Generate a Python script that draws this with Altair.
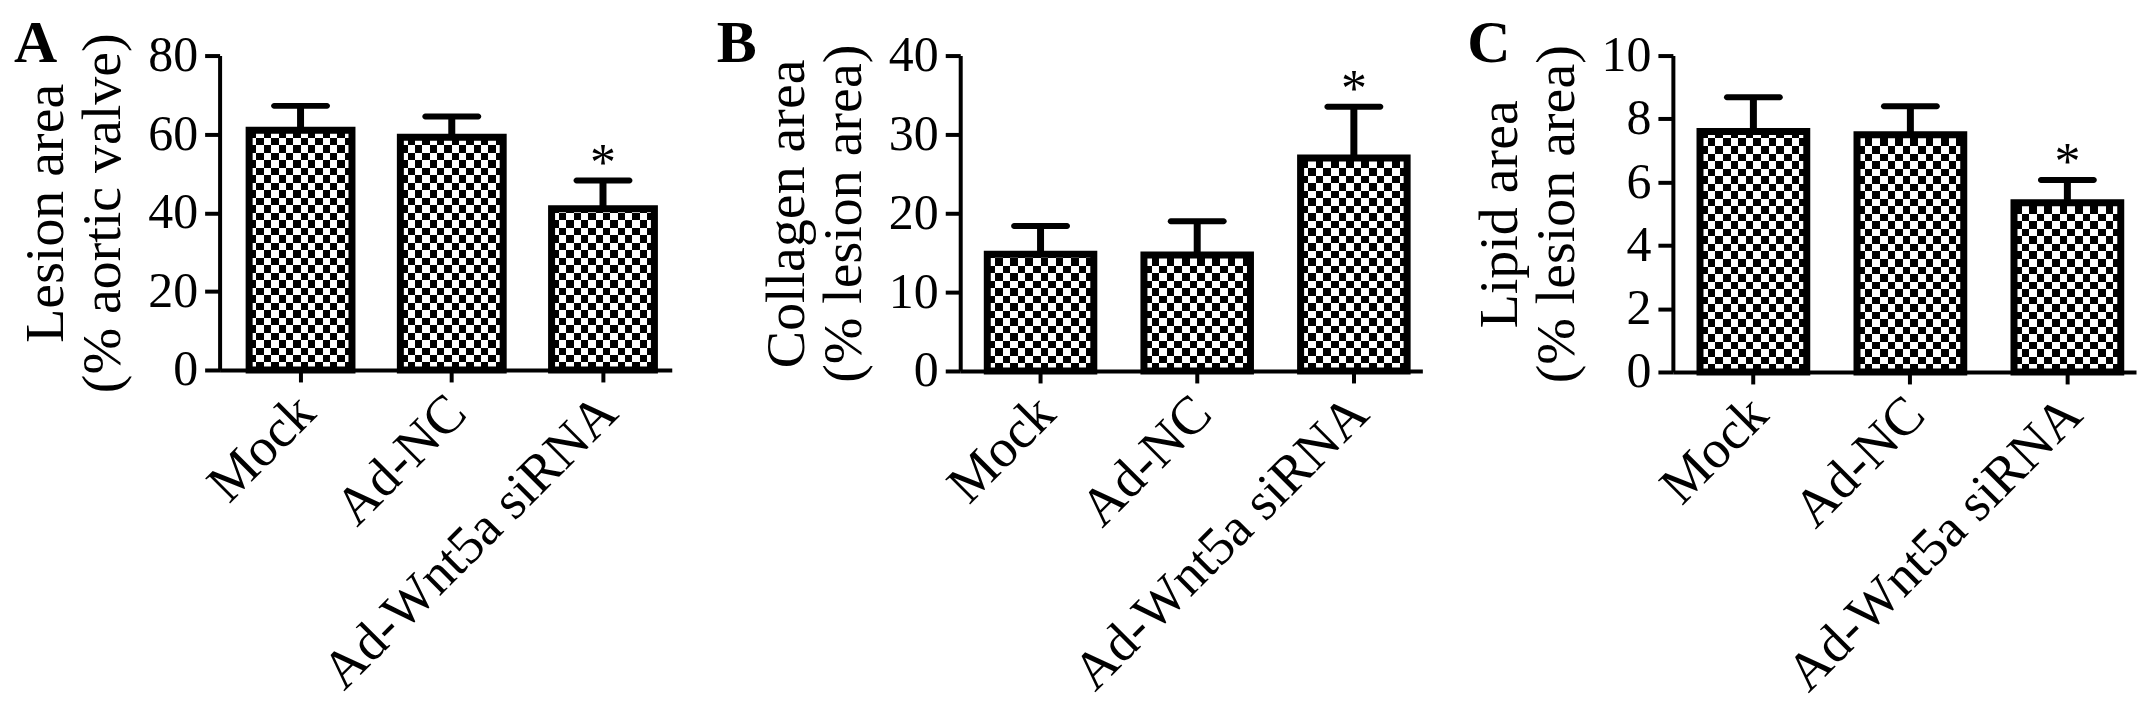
import altair as alt
import pandas as pd

# ---------------- data ----------------
groups = ["Mock", "Ad-NC", "Ad-Wnt5a siRNA"]
significance = ["", "", "*"]

lesion_mean = [61.0, 59.2, 41.0]
lesion_sem = [6.2, 5.3, 7.2]

collagen_mean = [14.8, 14.7, 27.0]
collagen_sem = [3.6, 4.3, 6.5]

lipid_mean = [7.6, 7.5, 5.35]
lipid_sem = [1.08, 0.90, 0.72]

panel_letters = ["A", "B", "C"]
y_titles = [
    ["Lesion area", "(% aortic valve)"],
    ["Collagen area", "(% lesion area)"],
    ["Lipid area", "(% lesion area)"],
]
y_max = [80, 40, 10]
y_ticks = [[0, 20, 40, 60, 80], [0, 10, 20, 30, 40], [0, 2, 4, 6, 8, 10]]

FONT = "Liberation Serif"


def stripes(n, horizontal_bands):
    stops = []
    for k in range(n):
        c = "black" if k % 2 == 0 else "white"
        stops.append(alt.GradientStop(color=c, offset=k / n))
        stops.append(alt.GradientStop(color=c, offset=(k + 1) / n))
    if horizontal_bands:
        return alt.LinearGradient(gradient="linear", stops=stops, x1=0, x2=0, y1=0, y2=1)
    return alt.LinearGradient(gradient="linear", stops=stops, x1=0, x2=1, y1=0, y2=0)


def panel(letter, means, sems, title, ymax, ticks, width, height, pin, pout, align, dx):
    df = pd.DataFrame({
        "group": groups,
        "mean": means,
        "sem": sems,
        "top": [m + s for m, s in zip(means, sems)],
        "ymax": [ymax] * len(groups),
        "sig": significance,
    })
    xscale = alt.Scale(paddingInner=pin, paddingOuter=pout, align=align)
    yscale = alt.Scale(domain=[0, ymax], nice=False, zero=True)
    x_axis = alt.Axis(
        title=None, labelAngle=-45, labelAlign="right", labelBaseline="middle",
        labelFontSize=54, labelPadding=22, labelOffset=6, labelLimit=1000,
        tickSize=12, tickWidth=4, domainWidth=4, zindex=1,
        labelFont=FONT, labelColor="black", domainColor="black", tickColor="black",
    )
    y_axis = alt.Axis(
        title=title, values=ticks, grid=False, titleFontSize=56, titleFontWeight="normal",
        titleLineHeight=57, titlePadding=16, labelFontSize=50, labelPadding=7,
        tickSize=15, tickWidth=4, domainWidth=4, zindex=1,
        labelFont=FONT, titleFont=FONT, labelColor="black", titleColor="black",
        domainColor="black", tickColor="black",
    )

    def X():
        return alt.X("group:N", sort=groups, scale=xscale, axis=x_axis)

    def Y(field):
        return alt.Y(field, scale=yscale, axis=y_axis)

    base = alt.Chart(df)
    column = base.mark_bar(fill=stripes(42, True)).encode(x=X(), y=Y("ymax:Q"))
    cover = base.mark_bar(fill="white", stroke="white", strokeWidth=2).encode(
        x=X(), y=Y("mean:Q"), y2=alt.Y2("ymax")
    )
    checks = base.mark_bar(fill=stripes(14, False), blend="difference").encode(
        x=X(), y=Y("mean:Q")
    )
    outline = base.mark_bar(fillOpacity=0, stroke="black", strokeWidth=7).encode(
        x=X(), y=Y("mean:Q")
    )
    whisker = base.mark_rule(color="black", strokeWidth=7).encode(
        x=X(), y=Y("mean:Q"), y2=alt.Y2("top")
    )
    cap = base.mark_tick(color="black", opacity=1, thickness=6, size=59, cornerRadius=3).encode(
        x=X(), y=Y("top:Q")
    )
    star = base.mark_text(font=FONT, fontSize=52, baseline="alphabetic", color="black", dy=-1).encode(
        x=X(), y=Y("top:Q"), text="sig:N"
    )
    return alt.layer(column, cover, checks, outline, whisker, cap, star).properties(
        width=width, height=height,
        title=alt.TitleParams(
            text=letter, anchor="start", frame="group", dx=dx, dy=91, offset=0,
            font=FONT, fontSize=60, fontWeight="bold", color="black", baseline="alphabetic",
        ),
    )


pA = panel("A", lesion_mean, lesion_sem, y_titles[0], y_max[0], y_ticks[0], 453, 315, 0.32, 0.155, 0.63, -206)
pB = panel("B", collagen_mean, collagen_sem, y_titles[1], y_max[1], y_ticks[1], 463, 316, 0.32, 0.135, 0.64, -244)
pC = panel("C", lipid_mean, lipid_sem, y_titles[2], y_max[2], y_ticks[2], 464, 317, 0.32, 0.135, 0.64, -206)

chart = alt.hconcat(pA, pB, pC, spacing=43).properties(
    padding={"left": 5, "top": 4, "right": 5, "bottom": 5}
).configure_view(stroke="transparent")

chart.save("out.html", embed_options={"renderer": "svg", "actions": False})
